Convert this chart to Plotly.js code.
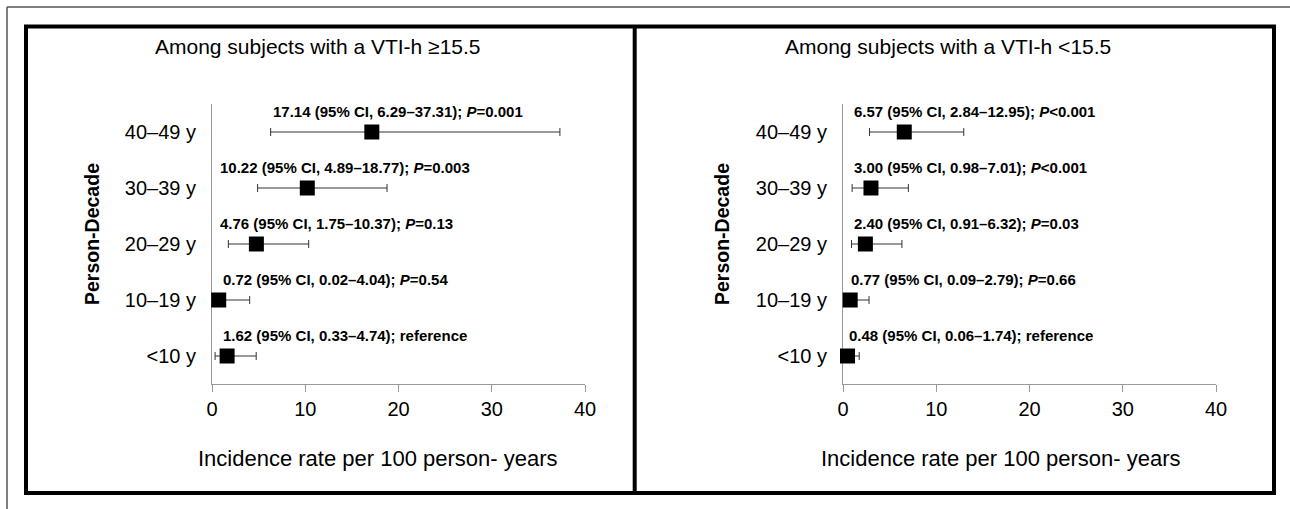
<!DOCTYPE html>
<html>
<head>
<meta charset="utf-8">
<script src="https://cdn.plot.ly/plotly-3.0.1.min.js"></script>
<style>
  html, body { margin: 0; padding: 0; background: #fff; }
  #chart { width: 1290px; height: 509px; }
</style>
</head>
<body>
<div id="chart"></div>
<script>
// ---------- DATA ----------
const categories = ["<10 y", "10–19 y", "20–29 y", "30–39 y", "40–49 y"];
const xTicks = [0, 10, 20, 30, 40];

const panelTitles = ["Among subjects with a VTI-h ≥15.5", "Among subjects with a VTI-h <15.5"];
const yTitle = "Person-Decade";
const xTitle = "Incidence rate per 100 person- years";

// VTI-h >= 15.5
const highRate = [1.62, 0.72, 4.76, 10.22, 17.14];
const highLow  = [0.33, 0.02, 1.75, 4.89, 6.29];
const highUp   = [4.74, 4.04, 10.37, 18.77, 37.31];
const highP    = ["reference", "P=0.54", "P=0.13", "P=0.003", "P=0.001"];

// VTI-h < 15.5
const lowRate = [0.48, 0.77, 2.40, 3.00, 6.57];
const lowLow  = [0.06, 0.09, 0.91, 0.98, 2.84];
const lowUp   = [1.74, 2.79, 6.32, 7.01, 12.95];
const lowP    = ["reference", "P=0.66", "P=0.03", "P<0.001", "P<0.001"];

// ---------- LAYOUT CONSTANTS ----------
const W = 1290, H = 509;
const px = v => v / W;
const py = v => 1 - v / H;
const FONT = "Liberation Sans, Arial, Helvetica, sans-serif";
const labelStartHigh = [1.0, 1.0, 0.6, 0.6, 6.35];
const labelStartLow  = [0.4, 0.6, 1.0, 1.0, 1.0];
const labelOffset = 0.37;

function esc(s) { return s.replace(/</g, "&lt;"); }
function pText(p) {
  if (p.startsWith("P")) return "<i>P</i>" + esc(p.slice(1));
  return p;
}
function label(r, lo, up, p) {
  return "<b>" + r.toFixed(2) + " (95% CI, " + lo.toFixed(2) + "–" + up.toFixed(2) + "); " + pText(p) + "</b>";
}
const yIdx = categories.map((_, i) => i);

function trace(rate, lo, up, xa, ya) {
  return {
    type: "scatter", mode: "markers",
    x: rate, y: yIdx, xaxis: xa, yaxis: ya,
    marker: { symbol: "square", size: 15, color: "#000" },
    error_x: {
      type: "data", symmetric: false,
      array: up.map((u, i) => u - rate[i]),
      arrayminus: lo.map((l, i) => rate[i] - l),
      color: "#333", thickness: 1, width: 4
    },
    cliponaxis: false, hoverinfo: "skip", showlegend: false
  };
}

const data = [
  trace(highRate, highLow, highUp, "x", "y"),
  trace(lowRate, lowLow, lowUp, "x2", "y2")
];

function xaxisDef(d0, d1, anchor) {
  return {
    domain: [px(d0), px(d1)], anchor: anchor, range: [0, 40],
    tickvals: xTicks, ticktext: xTicks.map(String),
    ticks: "outside", ticklen: 7, tickcolor: "#999", tickwidth: 1,
    showline: true, linecolor: "#999", linewidth: 1,
    showgrid: false, zeroline: false, layer: "below traces",
    tickfont: { family: FONT, size: 20, color: "#000" }, fixedrange: true
  };
}
function yaxisDef(anchor) {
  return {
    domain: [py(384), py(104)], anchor: anchor, range: [-0.5, 4.5],
    tickvals: yIdx, ticktext: categories.map(esc),
    ticks: "outside", ticklen: 11, tickcolor: "rgba(0,0,0,0)",
    showline: true, linecolor: "#999", linewidth: 1,
    showgrid: false, zeroline: false, layer: "below traces",
    tickfont: { family: FONT, size: 20, color: "#000" }, fixedrange: true
  };
}

const annotations = [];
function addPanel(xref, yref, rate, lo, up, p, starts) {
  rate.forEach((r, i) => {
    annotations.push({
      xref: xref, yref: yref, x: starts[i], y: i + labelOffset,
      xanchor: "left", yanchor: "middle", showarrow: false,
      text: label(r, lo[i], up[i], p[i]),
      font: { family: FONT, size: 15, color: "#000" }
    });
  });
}
addPanel("x", "y", highRate, highLow, highUp, highP, labelStartHigh);
addPanel("x2", "y2", lowRate, lowLow, lowUp, lowP, labelStartLow);

const titleX = [318, 948], yTitleX = [92, 722], xTitleX = [378, 1001];
[0, 1].forEach(k => {
  annotations.push({
    xref: "paper", yref: "paper", x: px(titleX[k]), y: py(46),
    xanchor: "center", yanchor: "middle", showarrow: false,
    text: esc(panelTitles[k]), font: { family: FONT, size: 21, color: "#000" }
  });
  annotations.push({
    xref: "paper", yref: "paper", x: px(yTitleX[k]), y: py(234),
    xanchor: "center", yanchor: "middle", showarrow: false, textangle: -90,
    text: "<b>" + yTitle + "</b>", font: { family: FONT, size: 19.5, color: "#000" }
  });
  annotations.push({
    xref: "paper", yref: "paper", x: px(xTitleX[k]), y: py(458),
    xanchor: "center", yanchor: "middle", showarrow: false,
    text: xTitle, font: { family: FONT, size: 22, color: "#000" }
  });
});

const shapes = [
  // outer thin frame
  { type: "line", xref: "paper", yref: "paper", x0: px(7), x1: px(1290), y0: py(7), y1: py(7), line: { color: "#555", width: 1.5 } },
  { type: "line", xref: "paper", yref: "paper", x0: px(7), x1: px(7), y0: py(7), y1: py(509), line: { color: "#555", width: 1.5 } },
  // thick box
  { type: "rect", xref: "paper", yref: "paper", x0: px(26), x1: px(1274), y0: py(493), y1: py(26.5), line: { color: "#000", width: 4 } },
  // divider
  { type: "line", xref: "paper", yref: "paper", x0: px(634.7), x1: px(634.7), y0: py(26.5), y1: py(493), line: { color: "#000", width: 4 } }
];

const layout = {
  width: W, height: H,
  margin: { l: 0, r: 0, t: 0, b: 0 },
  paper_bgcolor: "#fff", plot_bgcolor: "rgba(0,0,0,0)",
  font: { family: FONT, color: "#000" },
  xaxis: xaxisDef(212, 585, "y"),
  yaxis: yaxisDef("x"),
  xaxis2: xaxisDef(843, 1216, "y2"),
  yaxis2: yaxisDef("x2"),
  annotations: annotations,
  shapes: shapes,
  showlegend: false
};

Plotly.newPlot("chart", data, layout, { displayModeBar: false, staticPlot: true });
</script>
</body>
</html>
